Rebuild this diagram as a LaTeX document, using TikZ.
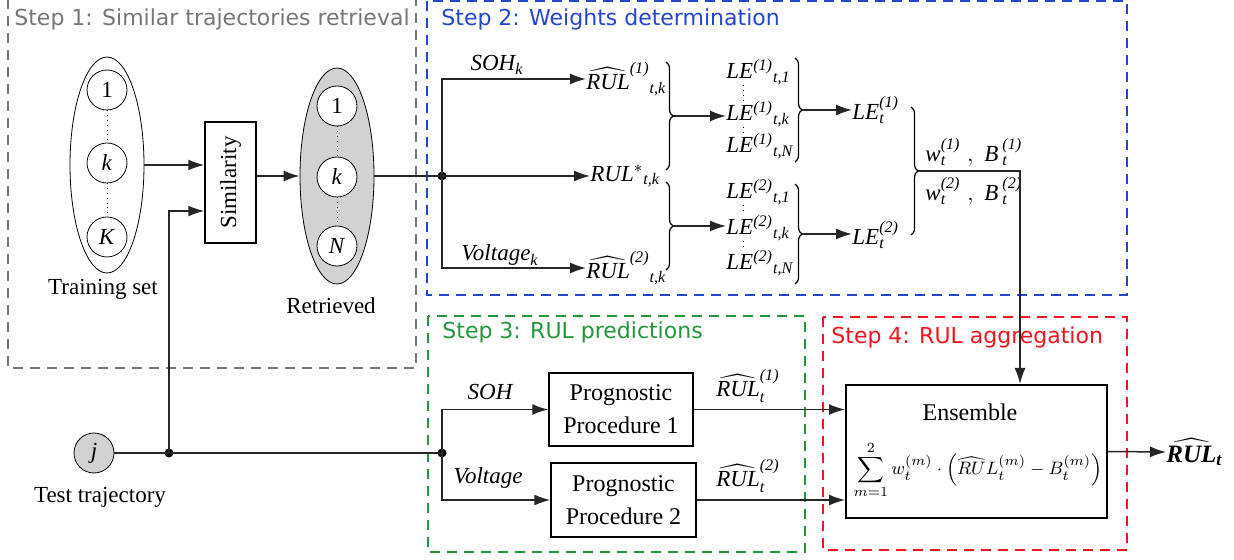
\documentclass[tikz,border=0pt]{standalone}
\usepackage{amsmath}
\usepackage{fontspec}
\setmainfont{Liberation Serif}
\newfontfamily\stepfont{DejaVu Sans}
\usetikzlibrary{arrows.meta,shapes.geometric,decorations.pathreplacing,calc}
\definecolor{sgray}{RGB}{118,118,118}
\definecolor{sblue}{RGB}{35,70,210}
\definecolor{sgreen}{RGB}{35,150,60}
\definecolor{sred}{RGB}{245,20,30}
\newcommand{\iv}[1]{\text{\itshape #1}}
\newcommand{\bv}[1]{\text{\bfseries\itshape #1}}
\begin{document}
\begin{tikzpicture}[x=0.5pt,y=-0.5pt,
  conn/.style={draw=black!85, line width=0.75pt},
  arr/.style={conn,-{Latex[length=8pt,width=5.5pt]}},
  frame/.style={line width=1pt, dash pattern=on 5pt off 3.5pt},
  steplabel/.style={anchor=west, inner sep=0pt, font=\stepfont\fontsize{11}{13}\selectfont},
  circ/.style={draw, circle, minimum size=20pt, inner sep=0pt, fill=white},
  ell/.style={draw, ellipse, minimum width=37pt, minimum height=108pt, inner sep=0pt},
  box/.style={draw, line width=0.75pt, inner sep=0pt},
  lbl/.style={inner sep=0pt},
  brc/.style={draw, decorate, decoration={brace, amplitude=3.5pt}, line width=0.6pt},
  dot/.style={circle, fill, inner sep=0pt, minimum size=4.5pt},
  font=\fontsize{11.5}{13.5}\selectfont]

\useasboundingbox (0,0) rectangle (1234,560);

% frames
\draw[frame, sgray] (8,-1) rectangle (416,368);
\draw[frame, sblue] (427,1) rectangle (1127,295);
\draw[frame, sgreen] (428,316) rectangle (805,552);
\draw[frame, sred] (823,317) rectangle (1127,550);

\node[steplabel, text=sgray] (l1) at (14,19) {Step 1: Similar trajectories retrieval};
\node[steplabel, text=sblue] (l2) at (441,19) {Step 2: Weights determination};
\node[steplabel, text=sgreen] (l3) at (442,332) {Step 3: RUL predictions};
\node[steplabel, text=sred] (l4) at (831,337) {Step 4: RUL aggregation};

% Step 1
\node[ell] (train) at (107,165) {};
\node[circ] (t1) at (107,90) {1};
\node[circ] (tk) at (107,163) {\textit{k}};
\node[circ] (tK) at (107,237) {\textit{K}};
\draw[dotted] (t1) -- (tk);
\draw[dotted] (tk) -- (tK);
\node[lbl] (trainlbl) at (103,289) {Training set};

\node[box, minimum width=25.5pt, minimum height=60.5pt] (sim) at (230.5,182.5) {};
\node[lbl, rotate=90] (simtxt) at (sim.center) {Similarity};

\node[ell, fill=gray!35] (ret) at (337,176) {};
\node[circ] (r1) at (337,106) {1};
\node[circ] (rk) at (337,177) {\textit{k}};
\node[circ] (rN) at (337,246) {\textit{N}};
\draw[dotted] (r1) -- (rk);
\draw[dotted] (rk) -- (rN);
\node[lbl] (retlbl) at (331,306) {Retrieved};

\node[circ, fill=gray!35] (j) at (94,453) {\textit{j}};
\node[lbl] (jlbl) at (100,497) {Test trajectory};

\node[dot] (d1) at (169,453) {};
\node[dot] (d2) at (442,453) {};
\node[dot] (d3) at (442,176) {};
\coordinate (c1) at (169,211);

\draw[arr] (train.east) -- (train.east -| sim.west);
\draw[arr] (d1.center) -- (c1) -- (c1 -| sim.west);
\draw[arr] (sim.east |- ret.west) -- (ret.west);
\draw[conn] (j.east) -- (d2.center);
\draw[conn] (ret.east) -- (d3.center);

% Step 2
\node[lbl, anchor=west] (rul1) at (586,79) {$\widehat{\iv{RUL}}^{\iv{(1)}}{}_{\iv{t,k}}$};
\node[lbl, anchor=west] (ruls) at (590,176) {$\iv{RUL}^{*}{}_{\iv{t,k}}$};
\node[lbl, anchor=west] (rul2) at (586,268) {$\widehat{\iv{RUL}}^{\iv{(2)}}{}_{\iv{t,k}}$};
\node[lbl] (sohk) at (497,65) {$\iv{SOH}_{\iv{k}}$};
\node[lbl] (voltk) at (500,255) {$\iv{Voltage}_{\iv{k}}$};

\draw[arr] (d3.center) |- (rul1.west);
\draw[arr] (d3.center) -- (ruls.west);
\draw[arr] (d3.center) |- (rul2.west);

\draw[brc] (666,62) -- (666,170);
\draw[brc] (666,182) -- (666,270);
\coordinate (b1) at (673,116);
\coordinate (b2) at (673,226);

\node[lbl, anchor=west] (le11) at (726,72) {$\iv{LE}^{\iv{(1)}}{}_{\iv{t,1}}$};
\node[lbl, anchor=west] (le1k) at (726,114) {$\iv{LE}^{\iv{(1)}}{}_{\iv{t,k}}$};
\node[lbl, anchor=west] (le1N) at (726,146) {$\iv{LE}^{\iv{(1)}}{}_{\iv{t,N}}$};
\node[lbl, anchor=west] (le21) at (726,192) {$\iv{LE}^{\iv{(2)}}{}_{\iv{t,1}}$};
\node[lbl, anchor=west] (le2k) at (726,228) {$\iv{LE}^{\iv{(2)}}{}_{\iv{t,k}}$};
\node[lbl, anchor=west] (le2N) at (726,263) {$\iv{LE}^{\iv{(2)}}{}_{\iv{t,N}}$};
\draw[dotted] ([xshift=8.5pt]le11.south west) -- ([xshift=8.5pt]le1k.north west);
\draw[dotted] ([xshift=8.5pt]le1k.south west) -- ([xshift=8.5pt]le1N.north west);
\draw[dotted] ([xshift=8.5pt]le21.south west) -- ([xshift=8.5pt]le2k.north west);
\draw[dotted] ([xshift=8.5pt]le2k.south west) -- ([xshift=8.5pt]le2N.north west);

\draw[arr] (b1) -- (b1 -| le1k.west);
\draw[arr] (b2) -- (b2 -| le2k.west);

\draw[brc] (795,58) -- (795,162);
\draw[brc] (795,184) -- (795,284);
\coordinate (b3) at (802,110);
\coordinate (b4) at (802,234);

\node[lbl, anchor=west] (let1) at (852,110) {$\iv{LE}_{\iv{t}}^{\iv{(1)}}$};
\node[lbl, anchor=west] (let2) at (852,235) {$\iv{LE}_{\iv{t}}^{\iv{(2)}}$};
\draw[arr] (b3) -- (b3 -| let1.west);
\draw[arr] (b4) -- (b4 -| let2.west);

\draw[brc] (911,107) -- (911,235);
\coordinate (b5) at (918,171);
\coordinate (corner) at (1020,171);
\node[lbl, anchor=west] (wb1) at (925,152) {$\iv{w}_{\iv{t}}^{\iv{(1)}}\;,\;\iv{B}\,_{\iv{t}}^{\iv{(1)}}$};
\node[lbl, anchor=west] (wb2) at (925,191) {$\iv{w}_{\iv{t}}^{\iv{(2)}}\;,\;\iv{B}\,_{\iv{t}}^{\iv{(2)}}$};

% Step 3
\node[box, minimum width=72pt, minimum height=36.5pt, align=center, font=\fontsize{12}{16.5}\selectfont] (pp1) at (621,409.5) {Prognostic\\Procedure 1};
\node[box, minimum width=72.5pt, minimum height=37pt, align=center, font=\fontsize{12}{16.5}\selectfont] (pp2) at (623.5,500) {Prognostic\\Procedure 2};
\node[lbl] (soh) at (490,392) {$\iv{SOH}$};
\node[lbl] (volt) at (488,478) {$\iv{Voltage}$};
\draw[arr] (d2.center) |- (pp1.west);
\draw[arr] (d2.center) |- (pp2.west);

% Step 4
\node[box, line width=1pt, minimum width=130.5pt, minimum height=66.5pt] (ens) at (976.5,451.5) {};
\node[lbl, font=\fontsize{12}{14}\selectfont] (enstxt) at (970,412) {Ensemble};
\node[lbl, font=\fontsize{9.5}{11}\selectfont] (ensf) at (978,470) {$\displaystyle\sum_{m=1}^{2} w_t^{(m)}\cdot\left(\widehat{RU}L_t^{(m)}-B_t^{(m)}\right)$};

\node[lbl] (rt1) at (748,386) {$\widehat{\iv{RUL}}_{\iv{t}}^{\iv{(1)}}$};
\node[lbl] (rt2) at (748,476) {$\widehat{\iv{RUL}}_{\iv{t}}^{\iv{(2)}}$};
\draw[arr] (pp1.east) -- (pp1.east -| ens.west);
\draw[arr] (pp2.east) -- (pp2.east -| ens.west);

\draw[arr] (b5) -- (corner) -- (corner |- ens.north);

\node[lbl, anchor=west, font=\fontsize{12.5}{14}\selectfont] (out) at (1166,452) {$\widehat{\bv{RUL}}_{\bv{t}}$};
\draw[arr] (ens.east) -- (out.west);
\end{tikzpicture}
\end{document}
